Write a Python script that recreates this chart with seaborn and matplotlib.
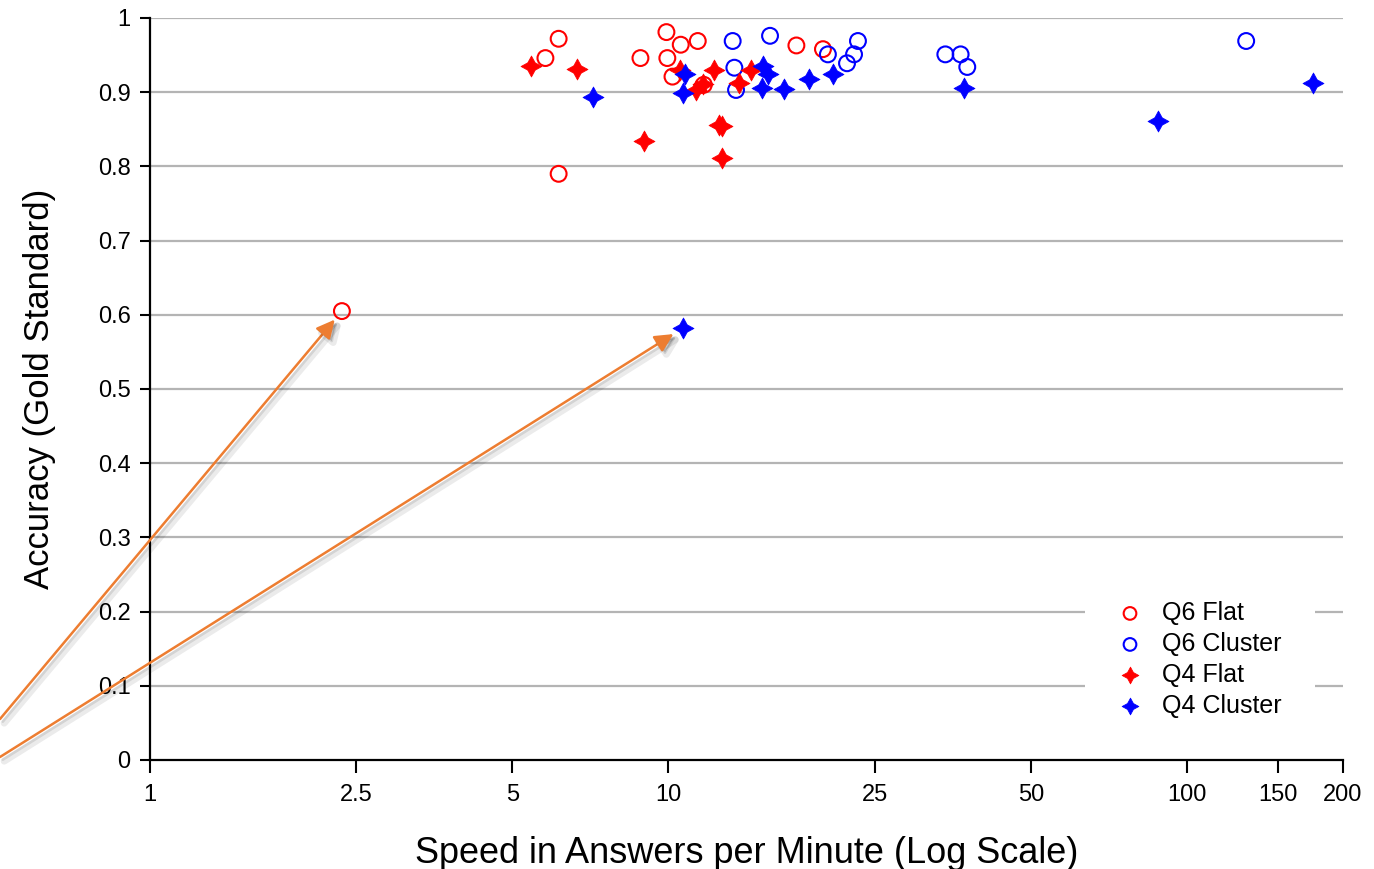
import matplotlib
matplotlib.use("Agg")
import matplotlib.pyplot as plt
import matplotlib.patheffects as pe
from matplotlib.patches import Rectangle
from matplotlib.ticker import FixedLocator, FixedFormatter, NullLocator
import seaborn as sns

# speed (answers / minute) and accuracy
q6_flat_speed = [6.14, 5.79, 9.91, 10.56, 11.39, 8.83, 9.95, 10.18, 11.70, 17.65, 19.86, 6.14, 2.345]
q6_flat_acc = [0.972, 0.946, 0.981, 0.964, 0.969, 0.946, 0.946, 0.921, 0.910, 0.963, 0.958, 0.790, 0.605]

q6_cluster_speed = [13.3, 13.4, 13.5, 15.7, 20.3, 22.1, 22.8, 23.2, 34.2, 36.6, 37.7, 130.1]
q6_cluster_acc = [0.969, 0.933, 0.903, 0.976, 0.951, 0.939, 0.951, 0.969, 0.951, 0.951, 0.934, 0.969]

q4_flat_speed = [5.44, 6.65, 8.97, 10.51, 11.32, 11.66, 12.24, 12.5, 12.7, 12.67, 13.66, 14.45]
q4_flat_acc = [0.935, 0.931, 0.834, 0.930, 0.903, 0.911, 0.930, 0.856, 0.855, 0.811, 0.912, 0.930]

q4_cluster_speed = [7.15, 10.75, 10.67, 15.18, 15.22, 15.56, 16.68, 18.65, 20.77, 37.2, 87.8, 175.4, 10.66]
q4_cluster_acc = [0.893, 0.925, 0.899, 0.905, 0.935, 0.925, 0.904, 0.918, 0.925, 0.905, 0.861, 0.912, 0.582]

x_ticks = [1, 2.5, 5, 10, 25, 50, 100, 150, 200]
x_tick_labels = ["1", "2.5", "5", "10", "25", "50", "100", "150", "200"]
y_ticks = [0, 0.1, 0.2, 0.3, 0.4, 0.5, 0.6, 0.7, 0.8, 0.9, 1]
y_tick_labels = ["0", "0.1", "0.2", "0.3", "0.4", "0.5", "0.6", "0.7", "0.8", "0.9", "1"]

sns.set_style("white")
plt.rcParams["font.family"] = ["Liberation Sans", "DejaVu Sans"]
plt.rcParams["text.color"] = "black"
plt.rcParams["axes.labelcolor"] = "black"
plt.rcParams["xtick.color"] = "black"
plt.rcParams["ytick.color"] = "black"

fig = plt.figure(figsize=(13.74, 8.69), dpi=100)
ax = fig.add_axes([150 / 1374, 109 / 869, 1193 / 1374, 742 / 869])

star = (4, 1, 0)
sns.scatterplot(x=q6_flat_speed, y=q6_flat_acc, ax=ax, marker="o", s=130,
                facecolor="none", edgecolor="red", linewidth=1.5, label="Q6 Flat", zorder=3)
sns.scatterplot(x=q6_cluster_speed, y=q6_cluster_acc, ax=ax, marker="o", s=130,
                facecolor="none", edgecolor="blue", linewidth=1.5, label="Q6 Cluster", zorder=3)
sns.scatterplot(x=q4_flat_speed, y=q4_flat_acc, ax=ax, marker=star, s=230,
                color="red", edgecolor="red", linewidth=0.5, label="Q4 Flat", zorder=3)
sns.scatterplot(x=q4_cluster_speed, y=q4_cluster_acc, ax=ax, marker=star, s=230,
                color="blue", edgecolor="blue", linewidth=0.5, label="Q4 Cluster", zorder=3)

ax.set_xscale("log")
ax.set_xlim(1, 200)
ax.set_ylim(0, 1)
ax.xaxis.set_major_locator(FixedLocator(x_ticks))
ax.xaxis.set_major_formatter(FixedFormatter(x_tick_labels))
ax.xaxis.set_minor_locator(NullLocator())
ax.set_yticks(y_ticks)
ax.set_yticklabels(y_tick_labels)

for y in y_ticks[1:]:
    ax.axhline(y, color="#b4b4b4", linewidth=1.6, zorder=1)

for side in ["top", "right"]:
    ax.spines[side].set_visible(False)
for side in ["left", "bottom"]:
    ax.spines[side].set_color("black")
    ax.spines[side].set_linewidth(1.6)

ax.tick_params(axis="x", direction="out", length=9, width=1.5, labelsize=17, pad=8, bottom=True)
ax.tick_params(axis="y", direction="out", length=7, width=1.5, labelsize=17, pad=7, left=True)

ax.set_xlabel("Speed in Answers per Minute (Log Scale)", fontsize=26, labelpad=22)
ax.set_ylabel("Accuracy (Gold Standard)", fontsize=25, labelpad=30)

# orange call-out arrows coming in from outside the plot
shadow = [pe.SimpleLineShadow(offset=(3, -3), alpha=0.08, shadow_color="black", linewidth=5),
          pe.SimpleLineShadow(offset=(2, -2), alpha=0.1, shadow_color="black"),
          pe.SimplePatchShadow(offset=(2, -2), alpha=0.15, shadow_rgbFace="black"),
          pe.Normal()]
arrow_kw = dict(arrowstyle="-|>,head_length=1.1,head_width=0.55", color="#ED7D31",
                linewidth=1.8, shrinkA=0, shrinkB=8, path_effects=shadow)
ax.annotate("", xy=(q6_flat_speed[-1], q6_flat_acc[-1]), xycoords="data",
            xytext=(0.0, 150 / 869), textcoords="figure fraction",
            arrowprops=arrow_kw, annotation_clip=False)
ax.annotate("", xy=(q4_cluster_speed[-1], q4_cluster_acc[-1]), xycoords="data",
            xytext=(0.0, 112 / 869), textcoords="figure fraction",
            arrowprops=arrow_kw, annotation_clip=False)

# white box behind the legend hides the grid lines there
ax.add_patch(Rectangle(((1085 - 150) / 1193, (760 - 725) / 742), 230 / 1193, 130 / 742,
                       transform=ax.transAxes, facecolor="white", edgecolor="none", zorder=4))
leg = ax.legend(loc="upper left", bbox_to_anchor=((1110 - 150) / 1193, (760 - 601) / 742),
                frameon=False, fontsize=18, markerscale=0.8, handlelength=1.6,
                handletextpad=0.5, labelspacing=0.28, borderpad=0, borderaxespad=0)
leg.set_zorder(5)

fig.savefig("out.png", dpi=100, facecolor="white")
